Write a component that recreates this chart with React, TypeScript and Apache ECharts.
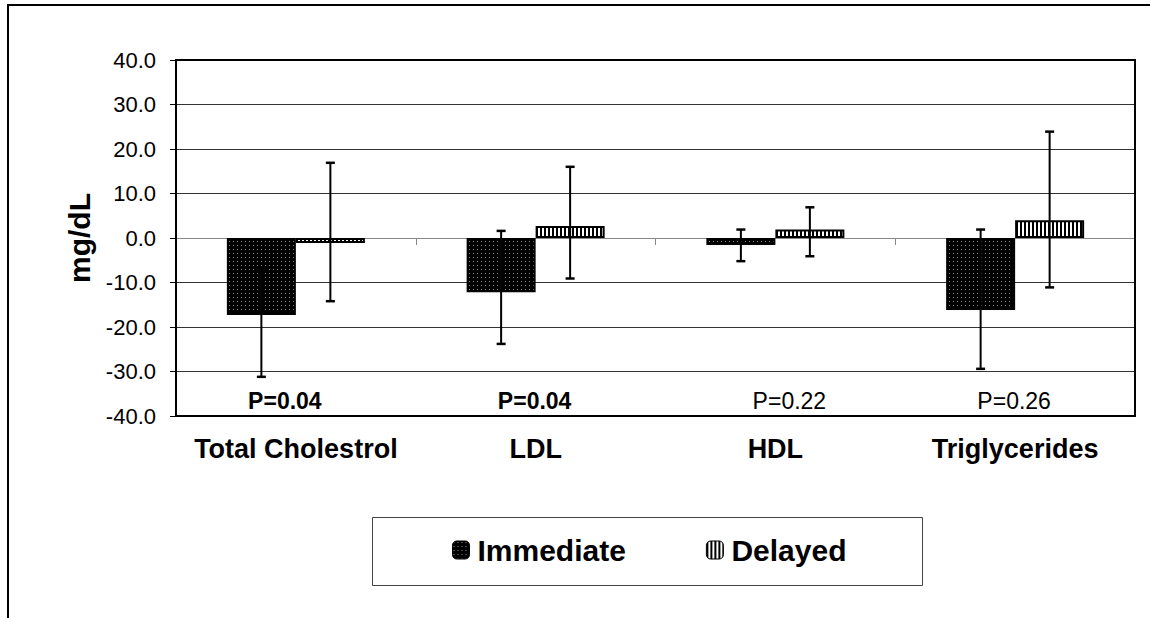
import React, { useEffect, useRef } from "react";
import * as echarts from "echarts";

const categories = ["Total Cholestrol", "LDL", "HDL", "Triglycerides"];
const immediate = [-17.3, -12.2, -1.6, -16.2];
const immediateLow = [-31.2, -23.8, -5.2, -29.4];
const immediateHigh = [-7.2, 1.6, 1.9, 1.9];
const delayed = [-1.1, 2.7, 1.9, 4.0];
const delayedLow = [-14.2, -9.1, -4.1, -11.1];
const delayedHigh = [16.9, 16.0, 6.9, 23.9];
const pValues = ["P=0.04", "P=0.04", "P=0.22", "P=0.26"];
const pBold = [true, true, false, false];
const yMin = -40;
const yMax = 40;
const yInterval = 10;

// layout constants
const BAR_W = 69;
const P_DX = [-11, -1, 14, -1];
const FONT = "'Liberation Sans', Arial, sans-serif";

function makePattern(kind: "dots" | "stripes") {
  const c = document.createElement("canvas");
  c.width = 4;
  c.height = 4;
  const ctx = c.getContext("2d")!;
  if (kind === "dots") {
    ctx.fillStyle = "#000";
    ctx.fillRect(0, 0, 4, 4);
    ctx.fillStyle = "#8a8a8a";
    ctx.fillRect(1, 1, 1, 1);
  } else {
    ctx.fillStyle = "#fff";
    ctx.fillRect(0, 0, 4, 4);
    ctx.fillStyle = "#000";
    ctx.fillRect(0, 0, 2, 4);
  }
  return { image: c, repeat: "repeat" } as any;
}

function errSeries(name: string, low: number[], high: number[], offset: number) {
  return {
    type: "custom",
    name: name + " error",
    silent: true,
    z: 5,
    encode: { x: 0, y: [1, 2] },
    data: categories.map((_, i) => [i, low[i], high[i]]),
    renderItem: (params: any, api: any) => {
      const i = api.value(0);
      const lo = api.coord([i, api.value(1)]);
      const hi = api.coord([i, api.value(2)]);
      const cx = lo[0] + offset;
      const cap = 4.5;
      const st = { stroke: "#000", lineWidth: 2 };
      const capSt = { stroke: "#000", lineWidth: 2.5 };
      return {
        type: "group",
        children: [
          { type: "line", shape: { x1: cx, y1: hi[1], x2: cx, y2: lo[1] }, style: st },
          { type: "line", shape: { x1: cx - cap, y1: hi[1], x2: cx + cap, y2: hi[1] }, style: capSt },
          { type: "line", shape: { x1: cx - cap, y1: lo[1], x2: cx + cap, y2: lo[1] }, style: capSt },
        ],
      };
    },
  };
}

export default function App() {
  const ref = useRef<HTMLDivElement>(null);
  useEffect(() => {
    if (!ref.current) return;
    const chart = echarts.init(ref.current, undefined, { renderer: "svg" });
    const dots = makePattern("dots");
    const stripes = makePattern("stripes");
    chart.setOption({
      animation: false,
      backgroundColor: "#fff",
      grid: {
        left: 176,
        top: 60,
        width: 959,
        height: 356,
        show: true,
        borderColor: "#000",
        borderWidth: 2,
        backgroundColor: "transparent",
        z: 4,
      },
      legend: {
        data: ["Immediate", "Delayed"],
        left: 452,
        top: 535,
        padding: 0,
        itemWidth: 17,
        itemHeight: 18,
        itemGap: 80,
        selectedMode: false,
        itemStyle: { borderColor: "#000", borderWidth: 1 },
        textStyle: {
          fontFamily: FONT,
          fontSize: 30,
          fontWeight: "bold",
          color: "#000",
          padding: [0, 0, 0, 3],
        },
      },
      xAxis: [
        {
          type: "category",
          data: categories,
          position: "bottom",
          axisLine: { show: false, onZero: false },
          axisTick: { show: false },
          axisLabel: {
            interval: 0,
            fontFamily: FONT,
            fontSize: 27,
            fontWeight: "bold",
            color: "#000",
            margin: 19,
          },
        },
        {
          type: "category",
          data: categories,
          position: "top",
          axisLine: { show: true, onZero: true, lineStyle: { color: "#888", width: 1 } },
          axisTick: { show: true, inside: true, length: 7, lineStyle: { color: "#888", width: 1 } },
          axisLabel: { show: false },
        },
      ],
      yAxis: {
        type: "value",
        min: yMin,
        max: yMax,
        interval: yInterval,
        name: "mg/dL",
        nameLocation: "middle",
        nameGap: 70,
        nameTextStyle: { fontFamily: FONT, fontSize: 30, fontWeight: "bold", color: "#000" },
        axisLine: { show: true, lineStyle: { color: "#000", width: 2 } },
        axisTick: { show: true, length: 6, lineStyle: { color: "#000", width: 1 } },
        axisLabel: {
          fontFamily: FONT,
          fontSize: 22,
          color: "#000",
          margin: 20,
          formatter: (v: number) => v.toFixed(1),
        },
        splitLine: { show: true, showMinLine: false, showMaxLine: false, lineStyle: { color: "#333", width: 1 } },
      },
      series: [
        {
          type: "bar",
          name: "Immediate",
          data: immediate,
          barWidth: BAR_W,
          barGap: "0%",
          z: 3,
          itemStyle: { color: dots, borderColor: "#000", borderWidth: 2 },
        },
        {
          type: "bar",
          name: "Delayed",
          data: delayed,
          barWidth: BAR_W,
          barGap: "0%",
          z: 3,
          itemStyle: { color: stripes, borderColor: "#000", borderWidth: 2 },
        },
        errSeries("Immediate", immediateLow, immediateHigh, -BAR_W / 2),
        errSeries("Delayed", delayedLow, delayedHigh, BAR_W / 2),
        {
          type: "custom",
          name: "p",
          silent: true,
          z: 6,
          encode: { x: 0, y: 1 },
          data: categories.map((_, i) => [i, yMin]),
          renderItem: (params: any, api: any) => {
            const i = api.value(0);
            const p = api.coord([i, api.value(1)]);
            return {
              type: "text",
              x: p[0] + P_DX[i],
              y: p[1] - 15,
              style: {
                text: pValues[i],
                fontFamily: FONT,
                fontSize: 23,
                fontWeight: pBold[i] ? "bold" : "normal",
                fill: "#000",
                align: "center",
                verticalAlign: "middle",
              },
            };
          },
        },
      ],
      graphic: [
        {
          type: "rect",
          shape: { x: 8, y: 5, width: 1170, height: 640 },
          style: { fill: "none", stroke: "#000", lineWidth: 2 },
          silent: true,
        },
        {
          type: "rect",
          shape: { x: 372.5, y: 517.5, width: 550, height: 68 },
          style: { fill: "none", stroke: "#444", lineWidth: 1 },
          silent: true,
        },
      ],
    });
    return () => chart.dispose();
  }, []);
  return (
    <div
      ref={ref}
      style={{ position: "fixed", left: 0, top: 0, width: 1150, height: 618 }}
    />
  );
}
